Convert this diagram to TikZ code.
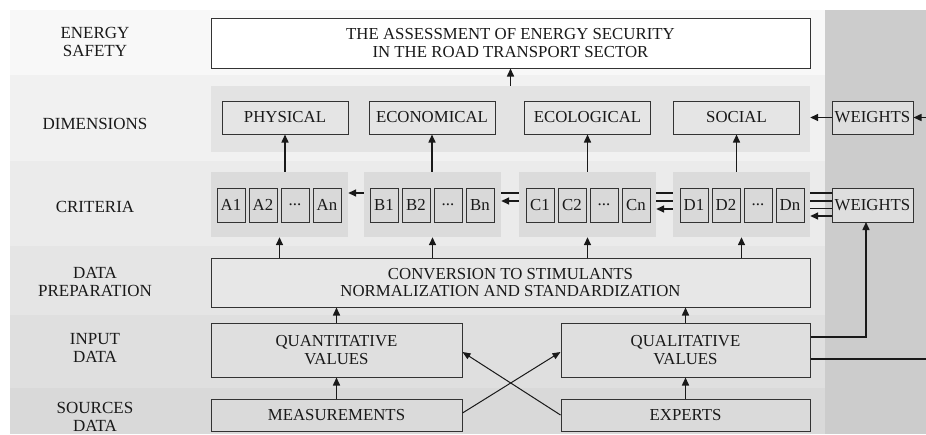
\documentclass[tikz,border=0pt]{standalone}
\usepackage{fontspec}
\setmainfont{Liberation Serif}
\usetikzlibrary{arrows.meta,calc}
\definecolor{rowA}{gray}{0.972}
\definecolor{rowB}{gray}{0.945}
\definecolor{rowC}{gray}{0.92}
\definecolor{rowD}{gray}{0.897}
\definecolor{rowE}{gray}{0.875}
\definecolor{rowF}{gray}{0.85}
\definecolor{colG}{gray}{0.80}
\definecolor{panDim}{gray}{0.89}
\definecolor{boxDim}{gray}{0.90}
\definecolor{panCrit}{gray}{0.86}
\definecolor{boxCrit}{gray}{0.85}
\definecolor{boxPrep}{gray}{0.905}
\definecolor{boxIn}{gray}{0.875}
\definecolor{boxSrc}{gray}{0.855}
\definecolor{boxW}{gray}{0.87}
\definecolor{edge}{gray}{0.2}
\newcommand\txtf{\fontsize{16.8}{17.5}\selectfont}
\newcommand\lblf{\fontsize{17}{17.5}\selectfont}
\begin{document}
\begin{tikzpicture}[x=1pt,y=-1pt,
  box/.style={draw=edge, line width=1pt, inner sep=0pt, align=center, font=\txtf, text=black!90},
  panel/.style={inner sep=0pt, draw=none},
  lbl/.style={align=center, font=\lblf, text=black!90, inner sep=0pt},
  arr/.style={-{Triangle[length=8pt,width=7pt]}, line width=1.5pt, black!90},
  thinarr/.style={-{Triangle[length=8pt,width=6.5pt]}, line width=1pt, black!90},
  wline/.style={line width=1.5pt, black!90},
  cbox/.style={box, fill=boxCrit, minimum width=28pt, minimum height=34pt}]
\useasboundingbox (0,0) rectangle (926,434);
\fill[white] (0,0) rectangle (926,434);
% row backgrounds
\fill[rowA] (10,10) rectangle (825,75);
\fill[rowB] (10,75) rectangle (825,161);
\fill[rowC] (10,161) rectangle (825,246);
\fill[rowD] (10,246) rectangle (825,315);
\fill[rowE] (10,315) rectangle (825,388);
\fill[rowF] (10,388) rectangle (825,434);
\fill[colG] (825,10) rectangle (926,434);
% labels
\node[lbl] (l1) at (95,42) {ENERGY\\SAFETY};
\node[lbl] (l2) at (95,124) {DIMENSIONS};
\node[lbl] (l3) at (95,207) {CRITERIA};
\node[lbl] (l4) at (95,282) {DATA\\PREPARATION};
\node[lbl] (l5) at (95,348) {INPUT\\DATA};
\node[lbl] (l6) at (95,417) {SOURCES\\DATA};
% top box
\node[box, fill=white, minimum width=599pt, minimum height=50pt] (top) at (510.5,43) {THE ASSESSMENT OF ENERGY SECURITY\\IN THE ROAD TRANSPORT SECTOR};
% dimensions
\node[panel, fill=panDim, minimum width=599pt, minimum height=66pt] (dimp) at (510.5,119) {};
\node[box, fill=boxDim, minimum width=126pt, minimum height=33pt] (phys) at (285,117.5) {PHYSICAL};
\node[box, fill=boxDim, minimum width=126pt, minimum height=33pt] (econ) at (432,117.5) {ECONOMICAL};
\node[box, fill=boxDim, minimum width=126pt, minimum height=33pt] (ecol) at (587.5,117.5) {ECOLOGICAL};
\node[box, fill=boxDim, minimum width=126pt, minimum height=33pt] (soc) at (736.5,117.5) {SOCIAL};
\node[box, fill=boxW, minimum width=81pt, minimum height=33pt] (wd) at (872.5,117.5) {WEIGHTS};
% criteria panels
\node[panel, fill=panCrit, minimum width=137pt, minimum height=65pt] (cpa) at (279.5,204.5) {};
\node[panel, fill=panCrit, minimum width=137pt, minimum height=65pt] (cpb) at (432.5,204.5) {};
\node[panel, fill=panCrit, minimum width=137pt, minimum height=65pt] (cpc) at (587.5,204.5) {};
\node[panel, fill=panCrit, minimum width=137pt, minimum height=65pt] (cpd) at (741.5,204.5) {};
\node[cbox] (a1) at (231,205) {A1};
\node[cbox] (a2) at (263,205) {A2};
\node[cbox] (a3) at (295,205) {...};
\node[cbox] (a4) at (327,205) {An};
\node[cbox] (b1) at (384,205) {B1};
\node[cbox] (b2) at (416,205) {B2};
\node[cbox] (b3) at (448,205) {...};
\node[cbox] (b4) at (480,205) {Bn};
\node[cbox] (c1) at (540,205) {C1};
\node[cbox] (c2) at (572,205) {C2};
\node[cbox] (c3) at (604,205) {...};
\node[cbox] (c4) at (636,205) {Cn};
\node[cbox] (d1) at (694,205) {D1};
\node[cbox] (d2) at (726,205) {D2};
\node[cbox] (d3) at (758,205) {...};
\node[cbox] (d4) at (790,205) {Dn};
\node[box, fill=boxW, minimum width=81pt, minimum height=34pt] (wc) at (872.5,205) {WEIGHTS};
% data preparation
\node[box, fill=boxPrep, minimum width=599pt, minimum height=49pt] (prep) at (510.5,282.5) {CONVERSION TO STIMULANTS\\NORMALIZATION AND STANDARDIZATION};
% input
\node[box, fill=boxIn, minimum width=251pt, minimum height=54pt] (quant) at (336.5,350) {QUANTITATIVE\\VALUES};
\node[box, fill=boxIn, minimum width=249pt, minimum height=54pt] (qual) at (685.5,350) {QUALITATIVE\\VALUES};
% sources
\node[box, fill=boxSrc, minimum width=251pt, minimum height=32pt] (meas) at (336.5,415) {MEASUREMENTS};
\node[box, fill=boxSrc, minimum width=249pt, minimum height=32pt] (exp) at (685.5,415) {EXPERTS};
% coordinates at the picture edge
\coordinate (edgeTop) at (926,117.5);
\coordinate (edgeBot) at (926,359);
\coordinate (wcIn) at (866,222);
% arrows: dimensions -> top
\draw[arr] (dimp.north -| top.south) -- (top.south);
% criteria -> dimensions
\draw[arr] (cpa.north -| phys.south) -- (phys.south);
\draw[arr] (cpb.north -| econ.south) -- (econ.south);
\draw[arr] (cpc.north -| ecol.south) -- (ecol.south);
\draw[arr] (cpd.north -| soc.south) -- (soc.south);
% weights top
\draw[arr] (edgeTop) -- (wd.east);
\draw[arr] (wd.west) -- (dimp.east |- wd.west);
% preparation -> criteria
\draw[arr] (prep.north -| cpa.south) -- (cpa.south);
\draw[arr] (prep.north -| cpb.south) -- (cpb.south);
\draw[arr] (prep.north -| cpc.south) -- (cpc.south);
\draw[arr] (prep.north -| cpd.south) -- (cpd.south);
% input -> preparation
\draw[arr] (quant.north) -- (quant.north |- prep.south);
\draw[arr] (qual.north) -- (qual.north |- prep.south);
% sources -> input
\draw[arr] (meas.north) -- (quant.south);
\draw[arr] (exp.north) -- (qual.south);
\draw[thinarr] ($(meas.east)+(0,-2)$) -- ($(qual.west)+(0,2)$);
\draw[thinarr] (exp.west) -- ($(quant.east)+(0,2)$);
% qualitative -> weights (criteria) and to edge
\draw[arr] (qual.east |- 0,337) -| (wcIn);
\draw[wline] (qual.east |- edgeBot) -- (edgeBot);
% weight lines between criteria panels
\draw[wline] (wc.west |- 0,193) -- (cpd.east |- 0,193);
\draw[wline] (wc.west |- 0,201) -- (cpd.east |- 0,201);
\draw[wline] (wc.west |- 0,208.5) -- (cpd.east |- 0,208.5);
\draw[arr] (wc.west |- 0,216) -- (cpd.east |- 0,216);
\draw[wline] (cpd.west |- 0,193) -- (cpc.east |- 0,193);
\draw[wline] (cpd.west |- 0,201) -- (cpc.east |- 0,201);
\draw[arr] (cpd.west |- 0,209) -- (cpc.east |- 0,209);
\draw[wline] (cpc.west |- 0,193) -- (cpb.east |- 0,193);
\draw[arr] (cpc.west |- 0,201) -- (cpb.east |- 0,201);
\draw[arr] (cpb.west |- 0,193) -- (cpa.east |- 0,193);
\end{tikzpicture}
\end{document}
